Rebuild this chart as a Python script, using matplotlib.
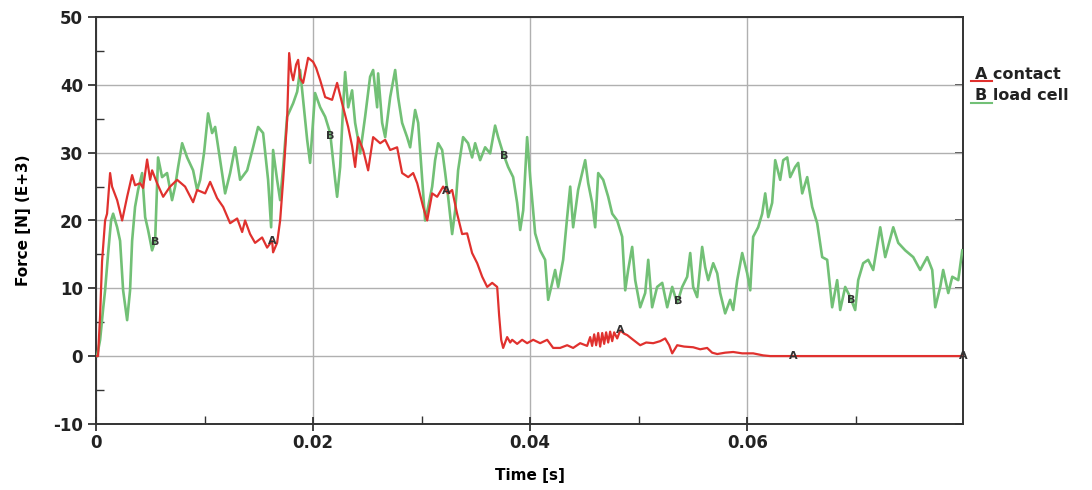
import numpy as np
import matplotlib
matplotlib.use("Agg")
import matplotlib.pyplot as plt
from matplotlib.lines import Line2D

plt.rcParams["axes.unicode_minus"] = False

# Contact force (A) - time in ms, force in kN
contact_t = [0.00, 0.18, 0.37, 0.55, 0.83, 1.01, 1.29, 1.47, 1.94, 2.40, 2.86, 3.32, 3.59, 4.06, 4.33,
             4.70, 4.98, 5.16, 5.62, 6.18, 6.82, 7.47, 8.20, 8.94, 9.31, 10.05, 10.51, 11.15, 11.71,
             12.35, 13.00, 13.46, 13.73, 14.19, 14.65, 15.30, 15.76, 16.22, 16.31, 16.68, 16.96, 17.24,
             17.60, 17.79, 17.97, 18.16, 18.43, 18.62, 18.80, 19.08, 19.54, 20.00, 20.28, 20.65, 21.11,
             21.75, 22.21, 22.67, 23.23, 23.59, 23.87, 24.15, 24.61, 25.07, 25.53, 26.18, 26.64, 27.10,
             27.74, 28.20, 28.76, 29.22, 29.59, 30.14, 30.51, 30.97, 31.43, 31.98, 32.44, 32.81, 33.27,
             33.73, 34.19, 34.65, 35.12, 35.58, 36.04, 36.50, 36.96, 37.14, 37.33, 37.51, 37.88, 38.16,
             38.34, 38.80, 39.26, 39.72, 40.28, 40.92, 41.57, 42.12, 42.76, 43.41, 43.96, 44.61, 45.25,
             45.53, 45.71, 45.90, 46.08, 46.27, 46.45, 46.64, 46.82, 47.00, 47.19, 47.37, 47.56, 47.74,
             48.02, 48.30, 48.66, 48.94, 49.49, 50.14, 50.69, 51.34, 51.98, 52.44, 52.81, 53.09, 53.55,
             54.19, 55.02, 55.67, 56.31, 56.77, 57.24, 57.97, 58.71, 59.54, 60.55, 61.47, 62.12, 79.9]
contact_f = [0, 0, 6, 14, 20, 21, 27, 25, 23, 20, 23.5, 26.7, 25.2, 25.5, 24.8,
             29, 26, 27.4, 25.5, 23.5, 25, 26, 25, 22.7, 24.5, 24, 25.7, 23.3, 22,
             19.6, 20.3, 18.3, 20, 18, 16.7, 17.5, 16, 17, 15.3, 16.7, 20, 26,
             34.8, 44.7, 42, 40.7, 43, 43.7, 41, 40.3, 44, 43.4, 42.5, 40.7, 38.2,
             37.8, 40.3, 37.3, 33.8, 31, 27.9, 32.3, 30.4, 27.4, 32.3, 31.4, 31.9, 30.4,
             30.8, 27, 26.4, 27, 25.5, 22, 20, 24, 23.5, 25, 24, 24.5, 21,
             18, 18.1, 15.2, 13.7, 11.7, 10.2, 10.8, 10.2, 6, 2.4, 1.2, 2.8, 2.0,
             2.4, 1.8, 2.4, 1.9, 2.4, 1.9, 2.4, 1.2, 1.2, 1.6, 1.2, 1.9, 1.5,
             2.8, 1.5, 3.2, 1.6, 3.4, 1.4, 3.4, 1.8, 3.5, 2.0, 3.6, 2.2, 3.5,
             2.6, 3.8, 3.3, 3.1, 2.4, 1.6, 2.0, 1.9, 2.2, 2.6, 1.6, 0.4, 1.6,
             1.4, 1.3, 1.0, 1.2, 0.5, 0.3, 0.5, 0.6, 0.4, 0.4, 0.1, 0, 0]

# Load cell force (B)
load_t = [0.09, 0.37, 0.65, 0.83, 1.11, 1.38, 1.57, 1.94, 2.21, 2.49, 2.86, 3.13, 3.32, 3.59, 3.87,
          4.24, 4.52, 4.79, 5.16, 5.44, 5.71, 6.08, 6.54, 7.00, 7.28, 7.56, 7.93, 8.39, 8.94, 9.31,
          9.59, 9.95, 10.32, 10.69, 10.97, 11.43, 11.89, 12.35, 12.81, 13.27, 13.92, 14.47, 14.93,
          15.39, 15.85, 16.13, 16.31, 16.68, 16.96, 17.24, 17.60, 18.16, 18.53, 18.80, 19.08, 19.45,
          19.72, 20.18, 20.65, 21.11, 21.57, 22.03, 22.21, 22.49, 22.76, 22.95, 23.23, 23.59, 23.87,
          24.15, 24.33, 24.79, 25.25, 25.53, 25.90, 25.99, 26.36, 26.64, 27.10, 27.56, 27.83, 28.20,
          28.66, 28.94, 29.40, 29.68, 30.05, 30.32, 30.60, 30.97, 31.24, 31.52, 31.89, 32.17, 32.44,
          32.81, 33.09, 33.36, 33.82, 34.28, 34.65, 34.93, 35.39, 35.85, 36.31, 36.77, 37.05, 37.51,
          37.97, 38.43, 38.80, 39.08, 39.36, 39.72, 40.00, 40.46, 40.92, 41.38, 41.66, 42.03, 42.30,
          42.58, 43.04, 43.41, 43.69, 43.96, 44.42, 44.79, 45.07, 45.35, 45.71, 45.99, 46.27, 46.73,
          47.19, 47.56, 48.02, 48.48, 48.76, 49.03, 49.40, 49.68, 50.14, 50.60, 50.88, 51.24, 51.70,
          52.17, 52.63, 53.09, 53.55, 54.01, 54.47, 54.75, 55.02, 55.39, 55.85, 56.13, 56.41, 56.87,
          57.24, 57.51, 57.97, 58.43, 58.71, 59.08, 59.54, 60.00, 60.28, 60.55, 61.01, 61.38, 61.66,
          61.94, 62.30, 62.58, 63.04, 63.32, 63.69, 63.96, 64.42, 64.70, 65.07, 65.53, 65.99, 66.45,
          66.91, 67.37, 67.83, 68.29, 68.57, 69.03, 69.49, 69.95, 70.23, 70.69, 71.15, 71.61, 72.26,
          72.72, 73.46, 73.92, 74.56, 75.30, 75.94, 76.59, 77.05, 77.33, 77.79, 78.06, 78.53, 78.90,
          79.45, 79.82]
load_f = [0, 2.4, 7, 9.7, 15.2, 20, 21, 19, 17, 9.7, 5.3, 9.7, 17, 22, 24.5,
          27, 20.5, 18.6, 15.6, 17, 29.3, 26.4, 27, 23, 25, 27.9, 31.4, 29.3, 27.4, 24.5,
          26, 30, 35.8, 32.9, 33.8, 28.9, 24, 27, 30.8, 26, 27.4, 30.8, 33.8,
          32.9, 26, 19, 30.4, 26, 23, 27.9, 35.3, 37.3, 39, 42.2, 37.8, 31.9,
          28.5, 38.8, 36.7, 35.3, 32.9, 26, 23.5, 27.9, 36.7, 41.9, 36.7, 39.2, 34.4,
          31.9, 29.9, 35.3, 41.2, 42.2, 36.7, 41.7, 34.4, 32.3, 38.2, 42.2, 38.2, 34.4,
          32.3, 30.8, 36.3, 34.4, 26, 20, 22, 25, 28.9, 31.4, 30.4, 27, 23.5,
          18, 21.5, 27.4, 32.3, 31.4, 29.3, 31.4, 28.9, 30.8, 29.9, 34, 32.3, 29.9,
          27.9, 26.4, 22.6, 18.6, 21.5, 32.3, 26.4, 18.1, 15.6, 14.2, 8.3, 10.8, 12.7,
          10.2, 14.2, 20.5, 25, 19, 24.5, 27, 28.9, 25.5, 22.6, 19, 27, 26,
          23.5, 21, 20, 17.6, 9.7, 12.7, 16.1, 11.2, 7.2, 9.3, 14.2, 7.2, 10.2,
          10.8, 7.2, 10.2, 7.8, 10.2, 11.7, 15.2, 10.2, 8.7, 16.1, 13.1, 11.2, 13.7,
          12.2, 9.3, 6.3, 8.3, 6.8, 11.2, 15.2, 12.2, 9.7, 17.6, 19, 21, 24,
          20.5, 22.6, 28.9, 26, 28.9, 29.3, 26.4, 27.9, 28.5, 24, 26.4, 22, 19.6,
          14.6, 14.2, 7.2, 11.2, 6.8, 10.2, 8.7, 6.8, 11.2, 13.7, 14.2, 12.7, 19,
          14.6, 19, 16.7, 15.6, 14.6, 12.7, 14.6, 12.7, 7.2, 10.2, 12.7, 9.3, 11.7,
          11.2, 15.6]

# letter markers along each curve (ms)
contact_marks = [16.2, 32.3, 48.3, 64.2, 79.9]
load_marks = [5.4, 21.6, 37.6, 53.6, 69.6]

red = "#e0312e"
green = "#72c076"

fig = plt.figure(figsize=(10.92, 4.90), dpi=100)
ax = fig.add_axes([0.088, 0.135, 0.794, 0.830])

ct = np.array(contact_t) / 1000
lt = np.array(load_t) / 1000
ax.plot(lt, load_f, color=green, lw=1.9, zorder=3)
ax.plot(ct, contact_f, color=red, lw=1.6, zorder=4)

for m in contact_marks:
    ax.text(m / 1000, np.interp(m / 1000, ct, contact_f), "A", fontsize=8, fontweight="bold",
            color="#333333", ha="center", va="center", zorder=5)
for m in load_marks:
    ax.text(m / 1000, np.interp(m / 1000, lt, load_f), "B", fontsize=8, fontweight="bold",
            color="#333333", ha="center", va="center", zorder=5)

ax.set_xlim(0, 0.0799)
ax.set_ylim(-10, 50)
ax.set_xticks([0, 0.02, 0.04, 0.06])
ax.set_xticklabels(["0", "0.02", "0.04", "0.06"])
ax.set_xticks([0.01, 0.03, 0.05, 0.07], minor=True)
ax.set_yticks(range(-10, 51, 10))
ax.set_yticks(range(-5, 50, 10), minor=True)

ax.grid(True, which="major", color="#b0b0b0", lw=1.0)
ax.set_axisbelow(True)
for s in ax.spines.values():
    s.set_color("#333333")
    s.set_linewidth(1.4)

ax.tick_params(axis="x", which="major", direction="inout", length=10, width=1.2,
               labelsize=12, pad=2, colors="#222222")
ax.tick_params(axis="y", which="major", direction="out", length=6, width=1.2,
               labelsize=12, colors="#222222")
ax.tick_params(which="minor", direction="in", length=6, width=1.0, colors="#333333")
for lab in ax.get_xticklabels() + ax.get_yticklabels():
    lab.set_fontweight("bold")

# inward ticks on the right spine
sec = ax.secondary_yaxis("right")
sec.set_yticks(range(-10, 51, 10))
sec.tick_params(direction="in", length=6, width=1.2, labelright=False, colors="#333333")
sec.spines["right"].set_visible(False)

ax.set_xlabel("Time [s]", fontsize=11, fontweight="bold", labelpad=12)
ax.set_ylabel("Force [N] (E+3)", fontsize=11, fontweight="bold", labelpad=16)

# legend outside right
fig.text(0.893, 0.848, "A contact", fontsize=11.5, fontweight="bold", color="#222222", va="center")
fig.text(0.893, 0.805, "B load cell", fontsize=11.5, fontweight="bold", color="#222222", va="center")
fig.add_artist(Line2D([0.889, 0.908], [0.834, 0.834], color=red, lw=1.5))
fig.add_artist(Line2D([0.889, 0.908], [0.789, 0.789], color=green, lw=1.5))

fig.savefig("out.png", dpi=100)
